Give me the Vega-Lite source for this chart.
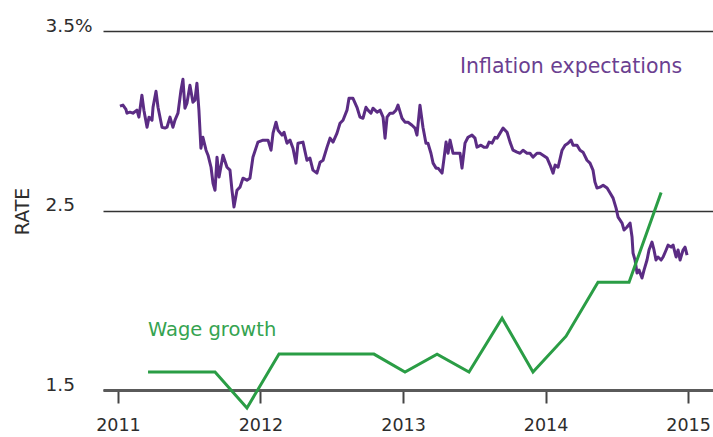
{
  "$schema": "https://vega.github.io/schema/vega-lite/v6.json",
  "width": 610,
  "height": 359,
  "padding": {"left": 103, "top": 31, "right": 0, "bottom": 47},
  "autosize": {"type": "none"},
  "background": "white",
  "config": {"view": {"stroke": null}, "font": "DejaVu Sans"},
  "datasets": {
    "infl": [
      {"t":2011.014,"v":3.081},{"t":2011.035,"v":3.087},{"t":2011.056,"v":3.064},{"t":2011.063,"v":3.042},{"t":2011.084,"v":3.048},{"t":2011.105,"v":3.042},{"t":2011.133,"v":3.059},{"t":2011.147,"v":3.020},{"t":2011.168,"v":3.142},{"t":2011.182,"v":3.059},{"t":2011.204,"v":2.964},{"t":2011.218,"v":3.020},{"t":2011.239,"v":3.003},{"t":2011.246,"v":3.075},{"t":2011.267,"v":3.164},{"t":2011.281,"v":3.075},{"t":2011.309,"v":2.964},{"t":2011.330,"v":2.959},{"t":2011.344,"v":2.964},{"t":2011.365,"v":3.020},{"t":2011.386,"v":2.964},{"t":2011.400,"v":3.003},{"t":2011.421,"v":3.042},{"t":2011.442,"v":3.170},{"t":2011.456,"v":3.231},{"t":2011.470,"v":3.070},{"t":2011.484,"v":3.098},{"t":2011.505,"v":3.198},{"t":2011.526,"v":3.103},{"t":2011.540,"v":3.114},{"t":2011.554,"v":3.209},{"t":2011.568,"v":3.059},{"t":2011.582,"v":2.847},{"t":2011.596,"v":2.908},{"t":2011.618,"v":2.836},{"t":2011.632,"v":2.808},{"t":2011.653,"v":2.741},{"t":2011.667,"v":2.652},{"t":2011.681,"v":2.613},{"t":2011.695,"v":2.797},{"t":2011.709,"v":2.686},{"t":2011.737,"v":2.808},{"t":2011.765,"v":2.741},{"t":2011.786,"v":2.725},{"t":2011.800,"v":2.613},{"t":2011.814,"v":2.519},{"t":2011.835,"v":2.613},{"t":2011.856,"v":2.630},{"t":2011.877,"v":2.680},{"t":2011.905,"v":2.669},{"t":2011.926,"v":2.680},{"t":2011.947,"v":2.797},{"t":2011.982,"v":2.881},{"t":2012.018,"v":2.892},{"t":2012.053,"v":2.892},{"t":2012.074,"v":2.836},{"t":2012.088,"v":2.931},{"t":2012.109,"v":2.992},{"t":2012.123,"v":2.947},{"t":2012.151,"v":2.920},{"t":2012.165,"v":2.936},{"t":2012.186,"v":2.875},{"t":2012.207,"v":2.892},{"t":2012.228,"v":2.847},{"t":2012.249,"v":2.764},{"t":2012.263,"v":2.875},{"t":2012.298,"v":2.881},{"t":2012.326,"v":2.780},{"t":2012.347,"v":2.792},{"t":2012.368,"v":2.725},{"t":2012.396,"v":2.708},{"t":2012.418,"v":2.769},{"t":2012.439,"v":2.780},{"t":2012.467,"v":2.853},{"t":2012.488,"v":2.903},{"t":2012.509,"v":2.881},{"t":2012.537,"v":2.931},{"t":2012.558,"v":2.986},{"t":2012.579,"v":3.003},{"t":2012.607,"v":3.059},{"t":2012.621,"v":3.125},{"t":2012.649,"v":3.125},{"t":2012.677,"v":3.075},{"t":2012.698,"v":3.020},{"t":2012.719,"v":3.014},{"t":2012.740,"v":3.075},{"t":2012.754,"v":3.059},{"t":2012.775,"v":3.042},{"t":2012.789,"v":3.070},{"t":2012.818,"v":3.048},{"t":2012.839,"v":3.059},{"t":2012.860,"v":3.020},{"t":2012.874,"v":2.903},{"t":2012.888,"v":3.020},{"t":2012.909,"v":3.042},{"t":2012.930,"v":3.042},{"t":2012.951,"v":3.059},{"t":2012.965,"v":3.087},{"t":2012.993,"v":3.014},{"t":2013.014,"v":2.992},{"t":2013.035,"v":2.992},{"t":2013.063,"v":2.975},{"t":2013.084,"v":2.959},{"t":2013.098,"v":2.920},{"t":2013.119,"v":3.087},{"t":2013.140,"v":2.964},{"t":2013.161,"v":2.875},{"t":2013.175,"v":2.875},{"t":2013.196,"v":2.819},{"t":2013.211,"v":2.764},{"t":2013.232,"v":2.736},{"t":2013.246,"v":2.736},{"t":2013.274,"v":2.708},{"t":2013.288,"v":2.792},{"t":2013.302,"v":2.881},{"t":2013.316,"v":2.819},{"t":2013.330,"v":2.892},{"t":2013.351,"v":2.819},{"t":2013.379,"v":2.819},{"t":2013.400,"v":2.819},{"t":2013.414,"v":2.736},{"t":2013.435,"v":2.875},{"t":2013.456,"v":2.908},{"t":2013.484,"v":2.920},{"t":2013.505,"v":2.903},{"t":2013.519,"v":2.853},{"t":2013.547,"v":2.864},{"t":2013.568,"v":2.853},{"t":2013.589,"v":2.853},{"t":2013.604,"v":2.881},{"t":2013.625,"v":2.875},{"t":2013.646,"v":2.908},{"t":2013.660,"v":2.903},{"t":2013.681,"v":2.931},{"t":2013.702,"v":2.959},{"t":2013.730,"v":2.936},{"t":2013.751,"v":2.881},{"t":2013.772,"v":2.836},{"t":2013.800,"v":2.825},{"t":2013.821,"v":2.819},{"t":2013.842,"v":2.836},{"t":2013.870,"v":2.819},{"t":2013.891,"v":2.819},{"t":2013.912,"v":2.797},{"t":2013.940,"v":2.819},{"t":2013.961,"v":2.819},{"t":2013.982,"v":2.808},{"t":2014.011,"v":2.792},{"t":2014.032,"v":2.753},{"t":2014.053,"v":2.708},{"t":2014.067,"v":2.753},{"t":2014.088,"v":2.741},{"t":2014.116,"v":2.836},{"t":2014.137,"v":2.864},{"t":2014.158,"v":2.875},{"t":2014.179,"v":2.892},{"t":2014.193,"v":2.864},{"t":2014.221,"v":2.864},{"t":2014.242,"v":2.836},{"t":2014.263,"v":2.825},{"t":2014.291,"v":2.780},{"t":2014.312,"v":2.764},{"t":2014.333,"v":2.725},{"t":2014.347,"v":2.658},{"t":2014.361,"v":2.625},{"t":2014.382,"v":2.630},{"t":2014.404,"v":2.641},{"t":2014.432,"v":2.625},{"t":2014.453,"v":2.597},{"t":2014.474,"v":2.569},{"t":2014.495,"v":2.513},{"t":2014.509,"v":2.463},{"t":2014.537,"v":2.430},{"t":2014.551,"v":2.391},{"t":2014.572,"v":2.408},{"t":2014.593,"v":2.430},{"t":2014.607,"v":2.352},{"t":2014.614,"v":2.263},{"t":2014.628,"v":2.224},{"t":2014.642,"v":2.152},{"t":2014.656,"v":2.168},{"t":2014.677,"v":2.124},{"t":2014.691,"v":2.168},{"t":2014.712,"v":2.224},{"t":2014.726,"v":2.280},{"t":2014.747,"v":2.324},{"t":2014.761,"v":2.280},{"t":2014.775,"v":2.224},{"t":2014.789,"v":2.241},{"t":2014.811,"v":2.224},{"t":2014.825,"v":2.241},{"t":2014.846,"v":2.280},{"t":2014.860,"v":2.307},{"t":2014.881,"v":2.296},{"t":2014.895,"v":2.307},{"t":2014.916,"v":2.241},{"t":2014.930,"v":2.280},{"t":2014.944,"v":2.224},{"t":2014.965,"v":2.280},{"t":2014.979,"v":2.296},{"t":2014.993,"v":2.252}
    ],
    "wage": [
      {"t":2011.211,"v":1.6},{"t":2011.681,"v":1.6},{"t":2011.905,"v":1.4},{"t":2012.130,"v":1.7},{"t":2012.796,"v":1.7},{"t":2013.014,"v":1.6},{"t":2013.239,"v":1.7},{"t":2013.463,"v":1.6},{"t":2013.695,"v":1.9},{"t":2013.912,"v":1.6},{"t":2014.144,"v":1.8},{"t":2014.368,"v":2.1},{"t":2014.586,"v":2.1},{"t":2014.811,"v":2.6}
    ],
    "notes": [
      {"t":2013.40,"v":3.30,"label":"Inflation expectations","series":"infl"},
      {"t":2011.21,"v":1.835,"label":"Wage growth","series":"wage"}
    ]
  },
  "encoding": {
    "x": {
      "field": "t", "type": "quantitative",
      "scale": {"domain": [2010.895, 2015.175], "nice": false, "zero": false},
      "axis": {
        "title": null, "values": [2011, 2012, 2013, 2014, 2015], "format": "d",
        "grid": false, "domainColor": "#5a5a5a", "domainWidth": 3,
        "tickColor": "#444", "tickWidth": 2, "tickSize": 13,
        "labelFontSize": 17.5, "labelColor": "#2d2d2d", "labelPadding": 13
      }
    },
    "y": {
      "field": "v", "type": "quantitative",
      "scale": {"domain": [1.5, 3.5], "nice": false, "zero": false},
      "axis": {
        "title": "RATE", "titleFontSize": 19, "titleFontWeight": "normal", "titleColor": "#2d2d2d",
        "titleAngle": -90, "titleX": -81, "titleY": 180, "titleAlign": "center", "titleBaseline": "middle",
        "values": [1.5, 2.5, 3.5],
        "labelExpr": "datum.value == 3.5 ? '3.5%' : format(datum.value, '.1f')",
        "labelAlign": "left", "labelBaseline": "alphabetic", "labelPadding": 58,
        "labelFontSize": 18.5, "labelColor": "#2d2d2d",
        "ticks": false, "domain": false,
        "grid": true, "gridColor": "#333", "gridWidth": 1.3
      }
    }
  },
  "layer": [
    {
      "data": {"name": "infl"},
      "mark": {"type": "line", "color": "#5b2c84", "strokeWidth": 3, "strokeJoin": "round"}
    },
    {
      "data": {"name": "wage"},
      "mark": {"type": "line", "color": "#2a9d45", "strokeWidth": 3}
    },
    {
      "data": {"name": "notes"},
      "transform": [{"filter": "datum.series == 'infl'"}],
      "mark": {"type": "text", "align": "left", "baseline": "middle", "fontSize": 20.5, "color": "#6b3f91"},
      "encoding": {"text": {"field": "label"}}
    },
    {
      "data": {"name": "notes"},
      "transform": [{"filter": "datum.series == 'wage'"}],
      "mark": {"type": "text", "align": "left", "baseline": "middle", "fontSize": 19.5, "color": "#35a350"},
      "encoding": {"text": {"field": "label"}}
    }
  ]
}
